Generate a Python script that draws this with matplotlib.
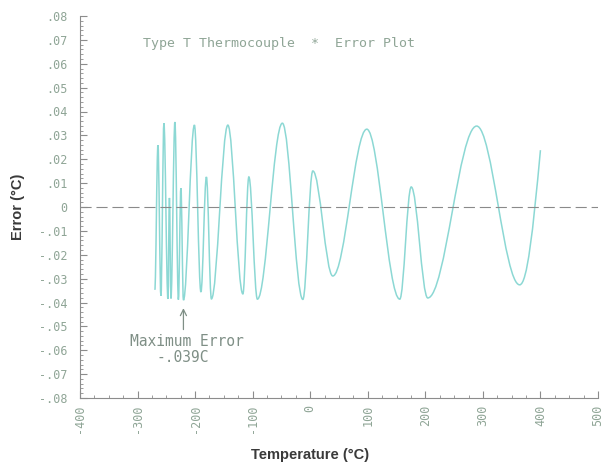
import numpy as np
import matplotlib
matplotlib.use("Agg")
import matplotlib.pyplot as plt
from matplotlib.path import Path
from matplotlib.patches import PathPatch
from matplotlib.ticker import MultipleLocator, FixedLocator, FixedFormatter

# turning points of the fit error curve, temperature (C) / error (C)
temp_pts = [-270, -264.6, -259.4, -254.2, -247.2, -244.6, -242.0, -235.1,
            -229.0, -224.7, -220.3, -201.2, -189.9, -180.4, -171.7, -143.1,
            -117.0, -106.6, -91.8, -48.4, -12.8, 4.5, 39.2, 98.3, 155.6,
            175.5, 204.2, 289.2, 363.9, 400]
err_pts = [-0.0347, 0.0259, -0.0372, 0.0351, -0.0385, 0.0038, -0.0383, 0.0356,
           -0.0388, 0.0079, -0.0390, 0.0343, -0.0356, 0.0126, -0.0385, 0.0343,
           -0.0364, 0.0126, -0.0386, 0.0351, -0.0387, 0.0151, -0.0289, 0.0326,
           -0.0386, 0.0084, -0.0381, 0.0339, -0.0326, 0.0238]

xticks = [-400, -300, -200, -100, 0, 100, 200, 300, 400, 500]
xtick_labels = ["-400", "-300", "-200", "-100", "0", "100", "200", "300",
                "400", "500"]
yticks = [0.08, 0.07, 0.06, 0.05, 0.04, 0.03, 0.02, 0.01, 0.0,
          -0.01, -0.02, -0.03, -0.04, -0.05, -0.06, -0.07, -0.08]
ytick_labels = [".08", ".07", ".06", ".05", ".04", ".03", ".02", ".01", "0",
                "-.01", "-.02", "-.03", "-.04", "-.05", "-.06", "-.07", "-.08"]

max_err_temp = -220.3
max_err_label = "-.039C"

plt.rcParams["lines.scale_dashes"] = False

curve_col = "#8cd8d4"
axis_col = "#8c8c8c"
plot_txt = "#8fa596"
note_col = "#7f8f86"
mono = "DejaVu Sans Mono"

fig = plt.figure(figsize=(6.07, 4.68), dpi=100)
ax = fig.add_axes([80 / 607, 70 / 468, 518 / 607, 382 / 468])
ax.set_xlim(-400, 500)
ax.set_ylim(-0.08, 0.08)

# smooth the curve between turning points with cubic beziers
# (flat tangents at each peak/trough)
k = 0.36
verts = [(temp_pts[0], err_pts[0])]
codes = [Path.MOVETO]
for i in range(1, len(temp_pts)):
    x0, y0 = temp_pts[i - 1], err_pts[i - 1]
    x1, y1 = temp_pts[i], err_pts[i]
    dx = x1 - x0
    c2y = y1
    if i == len(temp_pts) - 1:
        c2y = y1 - 0.6 * (y1 - y0)   # curve still rising at the end
    verts += [(x0 + k * dx, y0), (x1 - k * dx, c2y), (x1, y1)]
    codes += [Path.CURVE4] * 3
ax.add_patch(PathPatch(Path(verts, codes), facecolor="none",
                       edgecolor=curve_col, lw=1.1))

ax.axhline(0, color="#8a8a8a", lw=0.8, dashes=(8, 3.5))

for s in ["top", "right"]:
    ax.spines[s].set_visible(False)
for s in ["left", "bottom"]:
    ax.spines[s].set_color(axis_col)
    ax.spines[s].set_linewidth(0.8)

ax.xaxis.set_major_locator(FixedLocator(xticks))
ax.xaxis.set_major_formatter(FixedFormatter(xtick_labels))
ax.xaxis.set_minor_locator(MultipleLocator(25))
ax.yaxis.set_major_locator(FixedLocator(yticks))
ax.yaxis.set_major_formatter(FixedFormatter(ytick_labels))
ax.yaxis.set_minor_locator(MultipleLocator(0.002))

ax.tick_params(axis="both", which="both", direction="in", color=axis_col,
               labelcolor=plot_txt)
ax.tick_params(axis="x", which="major", length=5, pad=5, labelrotation=90)
ax.tick_params(axis="x", which="minor", length=2.5)
ax.tick_params(axis="y", which="major", length=5, pad=9)
ax.tick_params(axis="y", which="minor", length=2.5)
for lab in ax.get_xticklabels() + ax.get_yticklabels():
    lab.set_family(mono)
    lab.set_fontsize(8.5)

fig.text(143 / 607, 1 - 44 / 468, "Type T Thermocouple  *  Error Plot",
         family=mono, fontsize=9.5, color=plot_txt, ha="left", va="center")

ax.annotate("", xy=(max_err_temp, -0.0412), xytext=(max_err_temp, -0.0525),
            arrowprops=dict(arrowstyle="->", color=note_col, lw=0.9,
                            mutation_scale=11))
ax.text(max_err_temp + 6, -0.0565, "Maximum Error", family=mono,
        fontsize=10.5, color=note_col, ha="center", va="center")
ax.text(max_err_temp - 2, -0.0632, max_err_label, family=mono,
        fontsize=10.5, color=note_col, ha="center", va="center")

fig.text(18 / 607, 1 - 207 / 468, "Error (°C)", family="Liberation Sans",
         weight="bold", fontsize=10.5, color="#3a3a3a", rotation=90,
         ha="center", va="center")
fig.text(310 / 607, 1 - 455 / 468, "Temperature (°C)",
         family="Liberation Sans", weight="bold", fontsize=10.5,
         color="#3a3a3a", ha="center", va="center")

fig.savefig("out.png", dpi=100)
